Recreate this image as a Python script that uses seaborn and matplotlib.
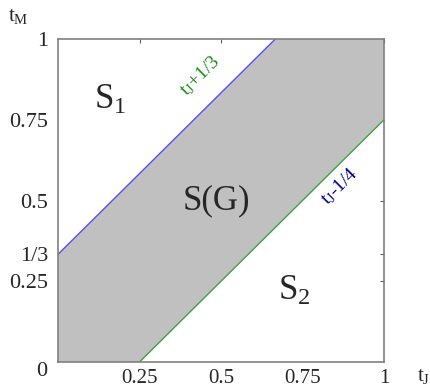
import matplotlib
matplotlib.use("Agg")
import matplotlib.pyplot as plt
import seaborn as sns
import pandas as pd

# boundary lines of the region S(G)
upper_x = [0.0, 2/3]
upper_y = [1/3, 1.0]
lower_x = [0.25, 1.0]
lower_y = [0.0, 0.75]
region_x = [0.0, 0.0, 2/3, 1.0, 1.0, 0.25]
region_y = [0.0, 1/3, 1.0, 1.0, 0.75, 0.0]

xticks = [0.25, 0.5, 0.75, 1.0]
xticklabels = ["0.25", "0.5", "0.75", "1"]
yticks = [0.25, 1/3, 0.5, 0.75, 1.0]
yticklabels = ["0.25", "1/3", "0.5", "0.75", "1"]

sns.set_style("white")
plt.rcParams['font.family'] = ['Liberation Serif', 'DejaVu Serif']
plt.rcParams['mathtext.fontset'] = 'custom'
plt.rcParams['mathtext.rm'] = 'Liberation Serif'
plt.rcParams['mathtext.it'] = 'Liberation Serif'

fig = plt.figure(figsize=(4.30, 3.89), dpi=100)
ax = fig.add_axes([58/430, 1-362/389, (384-58)/430, (362-39)/389])

ax.fill(region_x, region_y, color="#c0c0c0", lw=0)
sns.lineplot(x=upper_x, y=upper_y, ax=ax, color="#5050ff", lw=1)
sns.lineplot(x=lower_x, y=lower_y, ax=ax, color="#40a040", lw=1)

ax.set_xlim(0, 1)
ax.set_ylim(0, 1)
ax.set_xticks(xticks)
ax.set_xticklabels(xticklabels, fontsize=15)
ax.set_yticks(yticks)
ax.set_yticklabels(yticklabels, fontsize=16)
ax.tick_params(direction="in", length=3, color="#606060",
               top=True, right=True)
ax.tick_params(axis="x", pad=5)
ax.tick_params(axis="y", pad=7)
for s in ax.spines.values():
    s.set_color("#808080")
    s.set_linewidth(1.2)

fig.text(42/430, 1-372/389, "0", fontsize=16, ha="center", va="center")
fig.text(18/430, 1-17/389, r"t$_{\mathrm{M}}$", fontsize=15, ha="center", va="center")
fig.text(424/430, 1-377/389, r"t$_{\mathrm{J}}$", fontsize=15, ha="center", va="center")

ax.text(0.16, 0.81, r"S$_1$", fontsize=25, ha="center", va="center")
ax.text(0.485, 0.5, "S(G)", fontsize=25, ha="center", va="center")
ax.text(0.725, 0.22, r"S$_2$", fontsize=25, ha="center", va="center")

ax.text(0.435, 0.885, r"t$_{\mathrm{J}}$+1/3", fontsize=14, color="#1a8c1a",
        rotation=45, ha="center", va="center", rotation_mode="anchor")
ax.text(0.865, 0.545, r"t$_{\mathrm{J}}$-1/4", fontsize=14, color="#000090",
        rotation=45, ha="center", va="center", rotation_mode="anchor")

fig.savefig("out.png", dpi=100)
